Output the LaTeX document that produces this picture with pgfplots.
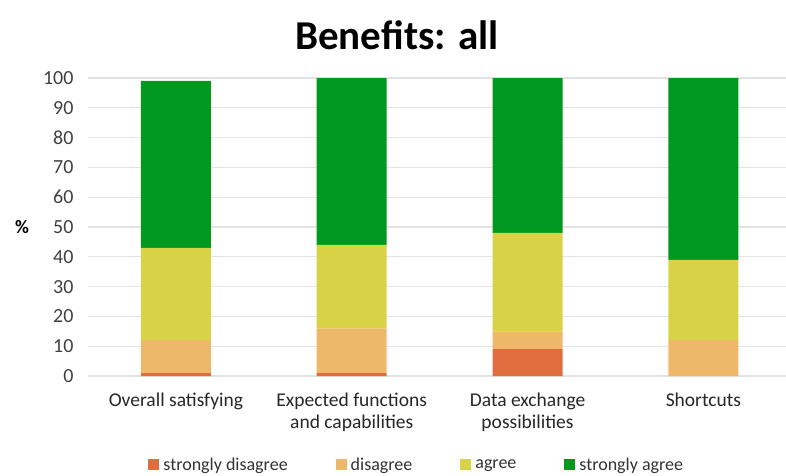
\documentclass[border=0pt]{standalone}
\usepackage{pgfplots}
\pgfplotsset{compat=1.18}
\usepackage{fontspec}
\setmainfont{Carlito}
\definecolor{sdis}{HTML}{E06D3D}
\definecolor{dis}{HTML}{EEB86B}
\definecolor{agr}{HTML}{D8D246}
\definecolor{sagr}{HTML}{00981F}
\definecolor{gridc}{HTML}{E3E3E3}
\begin{document}
\begin{tikzpicture}
\begin{axis}[
  scale only axis, width=698pt, height=298pt,
  ybar stacked, bar width=70pt,
  xmin=-0.5, xmax=3.47, ymin=0, ymax=100,
  xtick={0,1,2,3},
  xticklabels={Overall satisfying,{Expected functions\\and capabilities},{Data exchange\\possibilities},Shortcuts},
  xticklabel style={align=center, font=\fontsize{19.5}{22.5}\selectfont, text=black!85, yshift=-13pt},
  ytick={0,10,...,100},
  yticklabel style={font=\fontsize{20}{22}\selectfont, text=black!75, xshift=-11pt},
  /pgf/number format/assume math mode=true,
  ymajorgrids, grid style={draw=gridc, line width=1.3pt},
  axis line style={draw=none}, major tick length=0pt,
  legend style={at={(0.471,-0.299)}, anchor=center, draw=none, legend columns=4,
    font=\fontsize{18}{20}\selectfont, text=black!80,
    /tikz/every even column/.append style={column sep=46pt}},
  legend image code/.code={\fill[#1] (0pt,-4.5pt) rectangle (11pt,6.5pt); \path (0pt,0pt) -- (13pt,0pt);},
  clip=false,
]
\addplot[fill=sdis, draw=none] coordinates {(0,1) (1,1) (2,9) (3,0)};
\addplot[fill=dis, draw=none] coordinates {(0,11) (1,15) (2,6) (3,12)};
\addplot[fill=agr, draw=none] coordinates {(0,31) (1,28) (2,33) (3,27)};
\addplot[fill=sagr, draw=none] coordinates {(0,56) (1,56) (2,52) (3,61)};
\legend{strongly disagree, disagree, agree, strongly agree}
\end{axis}
\node[font=\bfseries\fontsize{41}{46}\selectfont] at (309pt,341pt) {Benefits: all};
\node[font=\bfseries\fontsize{19}{22}\selectfont] at (-66pt,149pt) {\%};
\pgfresetboundingbox
\path (-88pt,-99pt) rectangle (698pt,376pt);
\end{tikzpicture}
\end{document}
